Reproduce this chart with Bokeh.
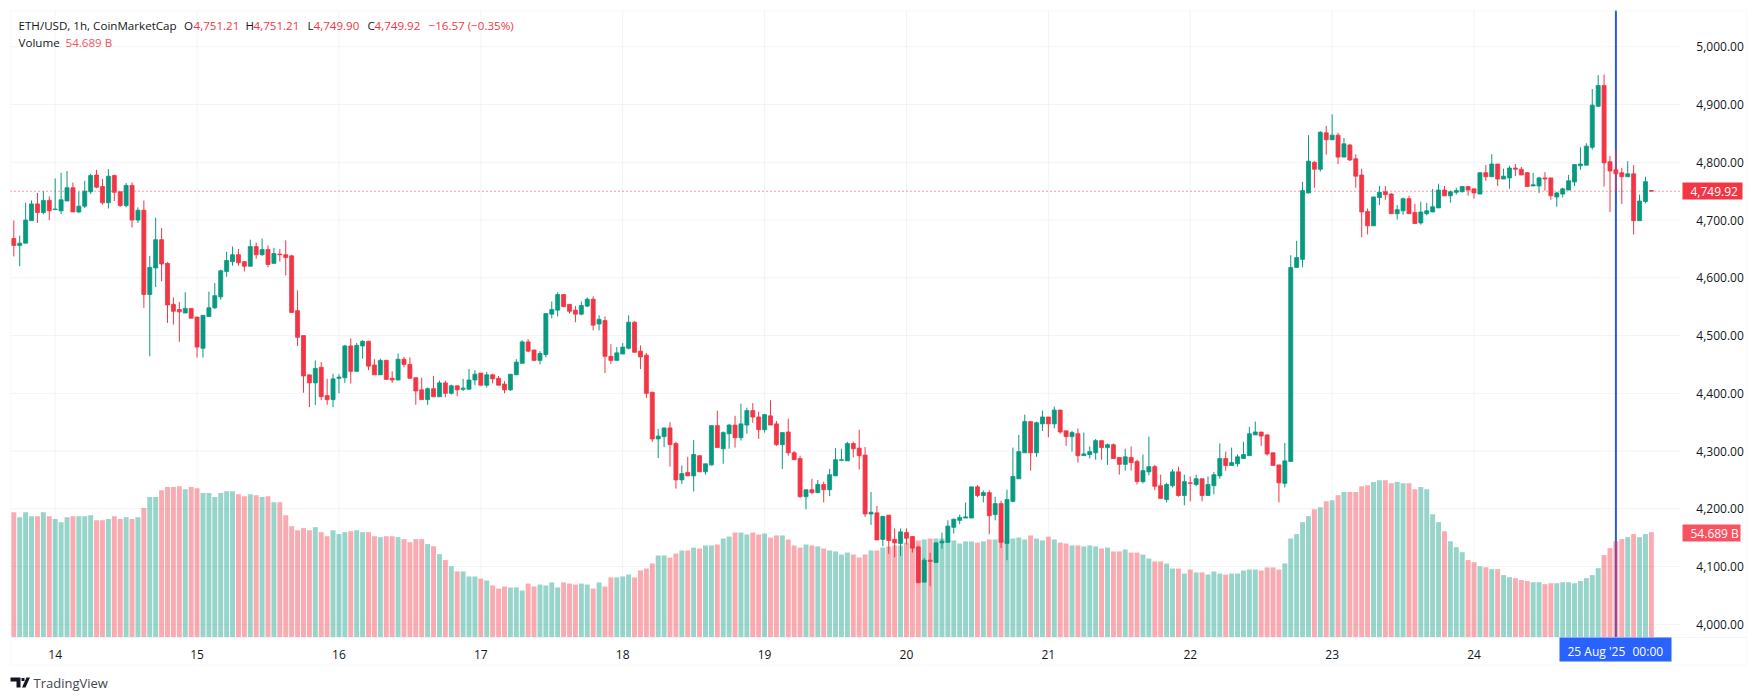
from bokeh.embed import file_html
from bokeh.models import (BoxAnnotation, ColumnDataSource, FixedTicker, Label,
                          NumeralTickFormatter, PolyAnnotation, Range1d)
from bokeh.plotting import figure
from bokeh.resources import INLINE

opens = [
 4668,4656,4660,4699,4728,4713,4734,4718,4716,4733,
 4756,4714,4724,4749,4778,4758,4730,4777,4749,4725,
 4760,4700,4717,4571,4617,4666,4625,4554,4545,4539,
 4547,4532,4478,4533,4548,4567,4611,4628,4640,4628,
 4620,4654,4640,4649,4625,4641,4640,4638,4543,4500,
 4432,4418,4445,4396,4389,4426,4427,4482,4438,4482,
 4490,4449,4432,4457,4426,4423,4459,4450,4427,4406,
 4389,4408,4394,4418,4400,4413,4407,4407,4423,4435,
 4414,4432,4426,4416,4406,4432,4452,4489,4475,4457,
 4467,4537,4544,4571,4554,4544,4537,4551,4563,4520,
 4526,4464,4457,4468,4478,4523,4473,4466,4402,4321,
 4325,4340,4313,4250,4263,4257,4292,4264,4276,4344,
 4304,4330,4345,4323,4345,4370,4359,4337,4361,4347,
 4311,4333,4297,4287,4221,4233,4228,4242,4233,4257,
 4284,4283,4313,4305,4293,4191,4193,4147,4189,4147,
 4140,4159,4152,4134,4073,4111,4107,4141,4142,4168,
 4180,4184,4184,4238,4223,4228,4190,4209,4140,4213,
 4252,4297,4351,4297,4347,4359,4347,4371,4335,4325,
 4330,4292,4294,4297,4318,4306,4311,4289,4277,4289,
 4282,4247,4264,4273,4240,4216,4240,4264,4223,4245,
 4242,4252,4223,4240,4257,4287,4275,4278,4287,4292,
 4328,4333,4328,4297,4276,4244,4282,4618,4632,4747,
 4800,4788,4851,4839,4847,4809,4830,4806,4778,4715,
 4690,4739,4749,4745,4711,4716,4737,4713,4695,4711,
 4714,4721,4752,4742,4748,4749,4758,4754,4745,4782,
 4775,4797,4771,4773,4790,4788,4782,4759,4759,4773,
 4773,4740,4745,4752,4766,4794,4795,4826,4897,4933,
 4801,4787,4782,4775,4780,4699,4732,4751.21]

closes = [
 4656,4660,4700,4728,4713,4734,4716,4719,4735,4756,
 4714,4724,4750,4777,4757,4730,4776,4748,4725,4760,
 4700,4717,4571,4618,4666,4624,4553,4542,4541,4547,
 4530,4480,4535,4548,4569,4612,4630,4640,4626,4620,
 4654,4640,4649,4623,4642,4640,4635,4540,4497,4430,
 4418,4443,4394,4389,4425,4428,4482,4438,4483,4490,
 4447,4432,4457,4424,4423,4459,4450,4426,4404,4389,
 4408,4394,4418,4400,4413,4406,4409,4423,4433,4414,
 4432,4425,4414,4406,4433,4454,4489,4473,4457,4469,
 4538,4545,4571,4550,4542,4537,4552,4563,4518,4528,
 4464,4457,4470,4480,4523,4471,4463,4400,4321,4326,
 4340,4311,4250,4261,4257,4294,4264,4278,4344,4306,
 4332,4345,4323,4347,4370,4359,4337,4363,4345,4311,
 4332,4297,4285,4221,4233,4228,4242,4233,4259,4285,
 4285,4313,4304,4292,4191,4194,4146,4187,4145,4141,
 4160,4149,4132,4072,4111,4109,4141,4144,4170,4182,
 4185,4186,4238,4223,4228,4188,4209,4142,4216,4256,
 4299,4351,4297,4349,4359,4347,4371,4333,4325,4332,
 4292,4295,4299,4318,4306,4311,4287,4277,4290,4280,
 4247,4266,4273,4239,4218,4242,4264,4223,4247,4244,
 4252,4223,4242,4259,4287,4275,4280,4290,4294,4330,
 4333,4326,4295,4275,4245,4283,4618,4635,4751,4802,
 4788,4852,4839,4847,4809,4832,4804,4776,4714,4690,
 4740,4748,4744,4711,4718,4737,4711,4694,4714,4716,
 4723,4752,4742,4749,4751,4758,4752,4747,4782,4775,
 4797,4771,4776,4790,4788,4778,4758,4761,4773,4771,
 4742,4747,4754,4768,4796,4797,4828,4899,4933,4799,
 4785,4780,4775,4780,4699,4733,4766.49,4749.92]

highs = [
 4699,4673,4730,4734,4747,4750,4741,4772,4782,4785,
 4765,4749,4768,4780,4787,4771,4788,4779,4749,4764,
 4765,4722,4734,4638,4704,4686,4627,4566,4558,4575,
 4547,4532,4535,4576,4591,4614,4645,4654,4650,4628,
 4666,4661,4668,4656,4652,4650,4665,4640,4578,4500,
 4432,4457,4454,4425,4434,4433,4484,4495,4487,4492,
 4491,4459,4460,4458,4438,4469,4463,4462,4427,4427,
 4410,4430,4422,4422,4415,4413,4425,4442,4440,4435,
 4437,4434,4430,4421,4433,4459,4492,4494,4475,4473,
 4538,4559,4575,4571,4554,4551,4559,4566,4568,4535,
 4533,4485,4480,4487,4535,4525,4483,4470,4402,4338,
 4340,4350,4316,4275,4290,4319,4292,4278,4344,4370,
 4334,4347,4361,4382,4375,4383,4368,4364,4388,4352,
 4332,4356,4300,4292,4233,4252,4250,4247,4269,4305,
 4304,4316,4316,4337,4307,4229,4205,4187,4189,4166,
 4166,4166,4152,4136,4115,4124,4142,4159,4180,4183,
 4190,4211,4238,4241,4232,4232,4221,4214,4233,4306,
 4328,4363,4351,4351,4370,4359,4377,4371,4335,4335,
 4339,4332,4308,4321,4318,4313,4313,4289,4304,4308,
 4285,4294,4325,4276,4259,4245,4268,4273,4259,4256,
 4259,4252,4256,4264,4313,4299,4306,4294,4316,4342,
 4351,4333,4328,4297,4276,4314,4639,4664,4766,4847,
 4802,4854,4863,4883,4851,4842,4832,4814,4789,4720,
 4740,4759,4759,4747,4726,4739,4742,4728,4732,4730,
 4754,4763,4759,4751,4756,4759,4758,4754,4782,4795,
 4814,4797,4789,4794,4797,4792,4783,4782,4775,4783,
 4773,4749,4756,4778,4797,4826,4833,4927,4951,4952,
 4811,4821,4790,4802,4795,4744,4775,4751.21]

lows = [
 4637,4620,4660,4699,4695,4710,4700,4718,4710,4733,
 4714,4712,4721,4745,4755,4727,4720,4733,4723,4722,
 4687,4695,4548,4464,4584,4594,4522,4519,4489,4539,
 4530,4462,4462,4533,4546,4562,4602,4621,4621,4611,
 4620,4633,4638,4618,4625,4628,4604,4540,4482,4401,
 4376,4380,4388,4380,4376,4400,4418,4417,4437,4460,
 4440,4432,4432,4424,4418,4423,4445,4426,4380,4389,
 4380,4394,4394,4393,4398,4395,4404,4407,4414,4414,
 4410,4417,4414,4400,4404,4432,4452,4471,4457,4450,
 4462,4530,4533,4550,4538,4523,4535,4549,4509,4509,
 4435,4451,4457,4468,4476,4471,4442,4392,4316,4288,
 4307,4273,4235,4243,4257,4230,4264,4259,4275,4306,
 4278,4304,4306,4318,4330,4349,4321,4332,4345,4309,
 4269,4292,4285,4219,4199,4225,4227,4211,4222,4257,
 4283,4283,4289,4268,4186,4172,4146,4135,4122,4116,
 4118,4138,4124,4071,4073,4066,4107,4131,4142,4157,
 4173,4184,4184,4220,4211,4156,4180,4132,4111,4211,
 4252,4297,4266,4290,4335,4324,4339,4330,4309,4299,
 4280,4292,4287,4285,4285,4276,4287,4259,4266,4266,
 4242,4244,4258,4232,4218,4211,4237,4221,4206,4213,
 4239,4213,4223,4225,4252,4266,4275,4273,4287,4292,
 4328,4309,4292,4275,4211,4237,4282,4618,4618,4746,
 4756,4784,4813,4839,4797,4809,4802,4756,4670,4675,
 4690,4726,4735,4711,4701,4709,4711,4694,4692,4708,
 4714,4721,4742,4730,4744,4748,4742,4737,4745,4768,
 4775,4759,4771,4754,4776,4778,4758,4759,4747,4751,
 4735,4723,4739,4752,4759,4787,4795,4822,4897,4758,
 4714,4750,4728,4775,4675,4699,4729,4749.90]

volumes = [
 65.1,62.5,65.1,63.0,63.0,65.1,63.0,61.5,59.9,62.5,
 63.0,63.0,63.0,63.5,60.9,60.9,61.5,63.0,61.5,62.5,
 61.5,62.5,67.2,72.9,72.9,76.5,78.1,78.1,78.6,77.0,
 78.1,77.5,75.0,75.0,72.9,75.0,76.0,76.0,74.4,73.4,
 74.4,73.9,72.9,73.4,70.3,70.3,63.5,57.8,55.7,56.8,
 55.7,57.3,54.7,52.6,55.7,53.7,54.7,55.2,55.7,54.7,
 54.7,52.6,52.1,52.6,52.6,52.1,51.1,49.5,51.1,51.1,
 48.5,47.4,43.3,40.2,37.0,34.3,34.3,31.7,31.7,30.6,
 29.6,27.0,25.4,26.5,26.0,26.0,24.4,28.0,26.5,27.5,
 27.0,28.6,26.0,28.6,28.0,27.5,28.0,27.5,25.4,28.6,
 26.5,31.2,31.2,31.7,32.7,31.2,34.8,35.8,38.4,42.6,
 42.6,41.5,43.6,45.2,45.2,46.7,46.2,47.8,47.8,48.3,
 51.4,52.4,54.5,54.5,53.5,54.5,53.5,54.0,51.9,53.0,
 53.0,50.9,47.8,46.7,48.3,47.8,47.3,46.2,45.2,44.7,
 43.1,44.1,43.1,41.5,43.1,45.2,45.2,46.7,47.3,47.8,
 47.8,49.3,50.4,50.4,50.9,51.4,51.4,51.4,50.4,50.4,
 48.8,49.9,49.9,49.3,49.9,50.9,50.9,51.4,50.7,51.4,
 51.9,50.9,53.0,51.4,50.4,52.4,50.9,49.3,48.8,47.8,
 47.8,47.3,47.8,47.3,46.2,46.7,44.7,44.7,45.7,44.1,
 44.1,43.1,41.0,39.5,39.5,38.4,35.8,35.8,33.2,35.3,
 33.8,33.8,32.7,34.3,33.2,32.7,33.2,33.2,34.8,35.3,
 35.3,34.8,36.4,36.4,35.3,38.4,51.4,53.7,59.9,63.0,
 66.6,67.7,70.8,71.3,73.9,75.5,75.5,75.5,78.6,79.1,
 80.7,81.7,81.7,80.1,80.7,80.1,80.1,77.0,78.1,77.0,
 64.0,59.9,55.2,50.0,46.9,44.3,40.2,39.1,37.0,36.5,
 35.5,35.5,32.4,31.3,30.8,29.8,29.3,28.7,28.7,27.7,
 28.2,28.2,28.7,28.7,28.2,29.3,30.8,32.4,36.0,42.8,
 46.4,50.0,51.1,52.1,53.7,52.1,53.7,54.689]

price_ticks = [4000, 4100, 4200, 4300, 4400, 4500, 4600, 4700, 4800, 4900, 5000]
day_labels = ["14", "15", "16", "17", "18", "19", "20", "21", "22", "23", "24"]
first_day_hour = 7
hours_per_day = 24
crosshair_hour = 271
last_price = 4749.92
header_name = "ETH/USD, 1h, CoinMarketCap"
header_ohlc = [("O", "4,751.21"), ("H", "4,751.21"), ("L", "4,749.90"), ("C", "4,749.92")]
header_change = "\u221216.57 (\u22120.35%)"
volume_text = "54.689 B"
time_label = ("25 Aug '25", "00:00")

GREEN, RED = "#089981", "#f23645"
FONT = "Open Sans"
DARK = "#131722"
BORDER = "#f0f3fa"
GRID = "#f2f3f7"

# The plotting frame fills the whole canvas, so that the tags and the footer that
# sit outside the chart panes can be drawn; the panes are bounded by these limits.
pane_left, pane_right = -0.558, 281.9
pane_bottom, pane_top = 3977.1, 5062.9
card_right = 293.1

n = len(opens)
assert all(len(a) == n for a in (closes, highs, lows, volumes))
hours = list(range(n))
up = [c >= o for o, c in zip(opens, closes)]
src = ColumnDataSource(dict(
    x=hours, o=opens, c=closes, h=highs, l=lows, v=volumes,
    color=[GREEN if u else RED for u in up],
))

day_ticks = [first_day_hour + hours_per_day * i for i in range(len(day_labels))]

p = figure(width=1748, height=692, output_backend="svg", toolbar_location=None,
           x_range=Range1d(-2.25, 293.43), y_range=Range1d(3881.9, 5080.17),
           y_axis_location="right", min_border=0, outline_line_color=None,
           background_fill_color="white", border_fill_color="white")
p.extra_y_ranges = {"vol": Range1d(-28.56, 330.8)}

p.xaxis.fixed_location = pane_bottom
p.xaxis.bounds = (pane_left, card_right)
p.xaxis.ticker = FixedTicker(ticks=day_ticks)
p.xaxis.major_label_overrides = dict(zip(day_ticks, day_labels))
p.xaxis.major_tick_line_color = None
p.xaxis.minor_tick_line_color = None
p.xaxis.axis_line_color = BORDER
p.xaxis.major_label_standoff = 6
p.xaxis.major_label_text_font = FONT
p.xaxis.major_label_text_font_size = "12px"
p.xaxis.major_label_text_color = DARK

p.yaxis.fixed_location = pane_right
p.yaxis.ticker = FixedTicker(ticks=price_ticks)
p.yaxis.formatter = NumeralTickFormatter(format="0,0.00")
p.yaxis.major_tick_line_color = None
p.yaxis.minor_tick_line_color = None
p.yaxis.axis_line_color = None
p.yaxis.major_label_standoff = 10
p.yaxis.major_label_text_font = FONT
p.yaxis.major_label_text_font_size = "12px"
p.yaxis.major_label_text_color = DARK

# grid lines are bounded by the panes, so they are drawn from the tick lists
p.grid.visible = False
p.segment(x0=day_ticks, x1=day_ticks, y0=[pane_bottom] * len(day_ticks),
          y1=[pane_top] * len(day_ticks), line_color=GRID, line_width=1)
p.segment(x0=[pane_left] * len(price_ticks), x1=[pane_right] * len(price_ticks),
          y0=price_ticks, y1=price_ticks, line_color=GRID, line_width=1)

# crosshair and last-price lines, under the marks
p.segment(x0=[crosshair_hour], x1=[crosshair_hour], y0=[pane_bottom], y1=[pane_top],
          line_color="#2a5bd7", line_width=2)
price_line = p.segment(x0=[pane_left], x1=[pane_right], y0=[last_price], y1=[last_price],
                       line_color=RED, line_width=1)
price_line.glyph.line_dash = [1, 3]

# volume
p.vbar(x="x", top="v", bottom=0, width=0.84, source=src, y_range_name="vol",
       fill_color="color", line_color=None, fill_alpha=0.42)

# candles
p.segment(x0="x", x1="x", y0="l", y1="h", source=src, line_color="color", line_width=1)
p.vbar(x="x", top="o", bottom="c", width=0.68, source=src,
       fill_color="color", line_color="color", line_width=0.8)


def text(s, x, y, color=DARK, size="11.6px", align="left", weight="normal"):
    p.add_layout(Label(x=x, y=y, x_units="canvas", y_units="canvas", text=s,
                       text_color=color, text_font=FONT, text_font_size=size,
                       text_align=align, text_baseline="middle", text_font_style=weight))


def box(left, right, top, bottom, fill=None, line=None, width=1):
    p.add_layout(BoxAnnotation(left=left, right=right, top=top, bottom=bottom,
                               left_units="canvas", right_units="canvas",
                               top_units="canvas", bottom_units="canvas",
                               fill_color=fill, fill_alpha=1 if fill else 0,
                               line_color=line, line_width=width))


def poly(xs, ys, color):
    p.add_layout(PolyAnnotation(xs=xs, ys=ys, xs_units="canvas", ys_units="canvas",
                                fill_color=color, fill_alpha=1, line_color=None))


# outer card
box(10, 1746, 10, 665, line=BORDER, width=2)

# header
text(header_name, 18, 25)
xs_letter = [183.5, 245, 307, 367]
xs_value = [193, 253, 313, 374]
for (letter, value), xl, xv in zip(header_ohlc, xs_letter, xs_value):
    text(letter, xl, 25)
    text(value, xv, 25, color=RED)
text(header_change, 428, 25, color=RED)
text("Volume", 18, 42)
text(volume_text, 65, 42, color="#f7525f")

# price-scale tags
box(1682, 1742, 182, 199, fill=RED)
text(f"{last_price:,.2f}", 1690, 190.5, color="white", size="12px")
box(1682, 1740, 524, 541, fill="#f7525f")
text(volume_text, 1690, 532.5, color="white", size="12px")

# time tag
box(1559, 1671, 637, 661, fill="#2962ff")
text(time_label[0], 1567, 651, color="white", size="12px")
text(time_label[1], 1632, 651, color="white", size="12px")

# footer wordmark and logo
text("TradingView", 33, 682.5, color="#434651", size="13px")
poly([10, 20, 20, 16, 16, 10], [677, 677, 687, 687, 681, 681], "#131722")
poly([26, 29.5, 25, 21.5], [677, 677, 687, 687], "#131722")
poly([21, 24, 24, 21], [677.5, 677.5, 680.5, 680.5], "#131722")

open("out.html", "w").write(file_html(p, INLINE))
